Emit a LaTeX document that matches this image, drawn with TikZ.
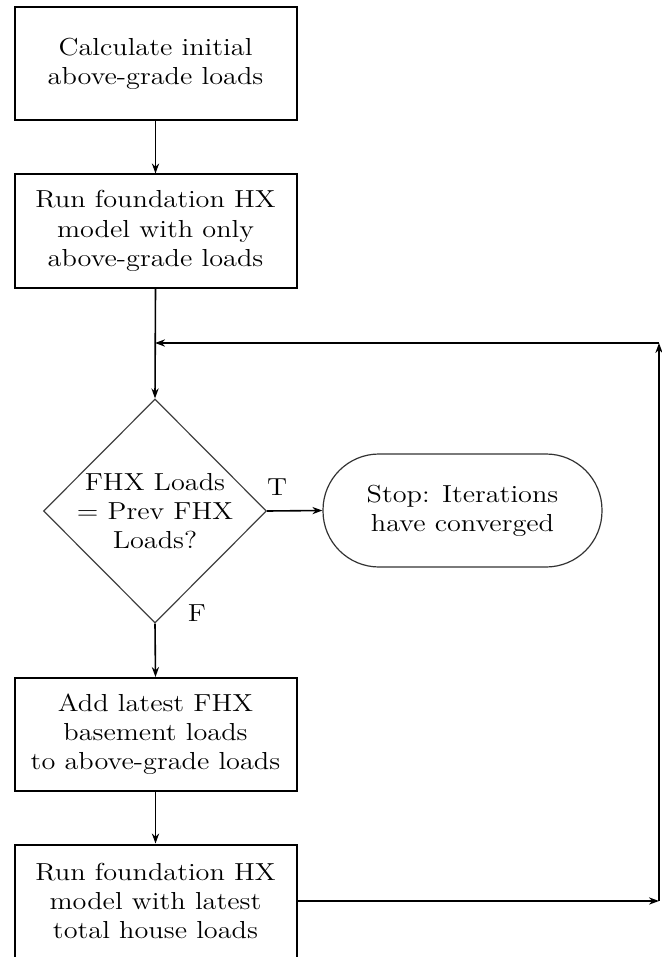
\documentclass[tikz,border=0pt]{standalone}
\usepackage{fontspec}
\setmainfont{Latin Modern Roman}[FakeStretch=1.15]
\usetikzlibrary{shapes.geometric,arrows.meta}
\begin{document}
\begin{tikzpicture}[x=0.5pt,y=-0.5pt,
  every node/.style={font=\fontsize{12.3}{14.6}\selectfont, align=center},
  procbox/.style={draw, line width=1pt, rectangle, minimum width=141pt, minimum height=56.5pt, inner sep=0pt},
  decision/.style={draw=black!75, line width=0.6pt, diamond, aspect=1, minimum width=111.5pt, minimum height=112pt, inner sep=0pt},
  terminal/.style={draw=black!80, line width=0.6pt, rectangle, rounded corners=28pt, minimum width=139.5pt, minimum height=56.5pt, inner sep=0pt},
  arr/.style={line width=0.8pt, -{Stealth[length=5pt,width=3.6pt]}},
  lbl/.style={font=\fontsize{12.3}{14}\selectfont}]
\useasboundingbox (0,0) rectangle (661,957);

% process steps
\node[procbox] (b1) at (155.5,63.5) {Calculate initial\\above-grade loads};
\node[procbox] (b2) at (155.5,231) {Run foundation HX\\model with only\\above-grade loads};
\node[decision] (dec) at (155,511) {};
\node at (dec) {FHX Loads\\= Prev FHX\\Loads?};
\node[terminal] (stop) at (462.5,510.5) {Stop: Iterations\\have converged};
\node[procbox] (b3) at (155.5,734.5) {Add latest FHX\\basement loads\\to above-grade loads};
\node[procbox] (b4) at (155.5,901) {Run foundation HX\\model with latest\\total house loads};

% loop-back corners
\coordinate (rc) at (659,901);
\coordinate (rt) at (659,343);
\coordinate (jn) at (155,343);

% connectors
\draw[arr] (b1.south) -- (b2.north);
\draw[arr] (b2.south) -- (dec.north);
\draw[arr] (dec.east) -- (stop.west);
\draw[arr] (dec.south) -- (b3.north);
\draw[arr] (b3.south) -- (b4.north);
\draw[arr] (b4.east) -- (rc);
\draw[arr] (rc) -- (rt);
\draw[arr] (rt) -- (jn);

% branch labels
\node[lbl] at (277,487) {T};
\node[lbl] at (197,613) {F};
\end{tikzpicture}
\end{document}
